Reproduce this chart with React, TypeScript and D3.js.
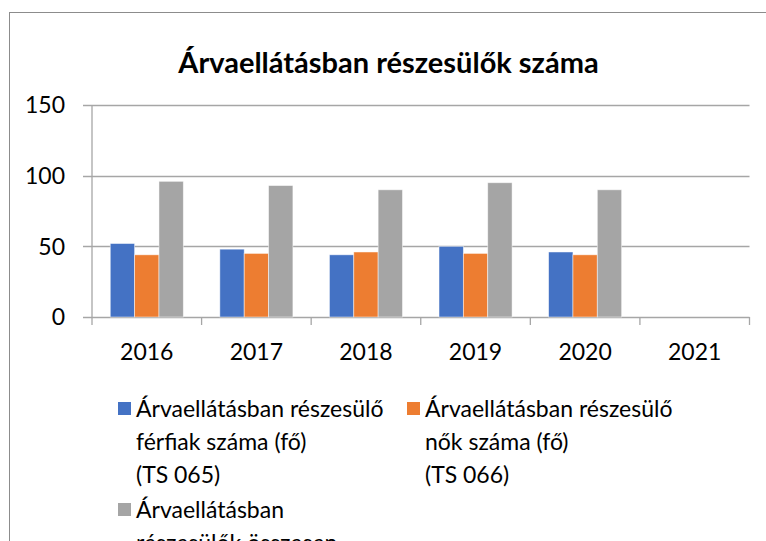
import React from "react";
import * as d3 from "d3";

const categories = ["2016", "2017", "2018", "2019", "2020", "2021"];
const seriesNames = [
  ["Árvaellátásban részesülő", "férfiak száma (fő)", "(TS 065)"],
  ["Árvaellátásban részesülő", "nők száma (fő)", "(TS 066)"],
  ["Árvaellátásban", "részesülők összesen"],
];
const maleValues: (number | null)[] = [52, 48, 44, 50, 46, null];
const femaleValues: (number | null)[] = [44, 45, 46, 45, 44, null];
const totalValues: (number | null)[] = [96, 93, 90, 95, 90, null];
const yTicks = [0, 50, 100, 150];
const colors = ["#4472C4", "#ED7D31", "#A5A5A5"];
const title = "Árvaellátásban részesülők száma";

const W = 766;
const H = 541;
const FONT = "Lato, 'Open Sans', sans-serif";

export default function App() {
  const plotLeft = 92;
  const plotRight = 749.5;
  const plotTop = 105;
  const plotBottom = 317;
  const x = d3.scaleBand<string>().domain(categories).range([plotLeft, plotRight]);
  const y = d3.scaleLinear().domain([0, 150]).range([plotBottom, plotTop]);
  const series = [maleValues, femaleValues, totalValues];
  const barW = x.bandwidth() / (3 + 1.5);
  const gap = (x.bandwidth() - 3 * barW) / 2;

  const legendItems = [
    { x: 118, y: 409 },
    { x: 407, y: 409 },
    { x: 118, y: 510 },
  ];
  const lineH = 33;

  return (
    <svg
      width={W}
      height={H}
      style={{ position: "absolute", left: 0, top: 0, background: "#fff" }}
      fontFamily={FONT}
    >
      <rect x={0} y={0} width={W} height={H} fill="#fff" />
      <rect x={9.5} y={12.5} width={W + 5} height={H + 10} fill="#fff" stroke="#8c8c8c" strokeWidth={1} />
      <text x={388.5} y={73} textAnchor="middle" fontSize={29} fontWeight="bold" fill="#000">
        {title}
      </text>
      {yTicks.map((t) => (
        <g key={t}>
          <line x1={83} x2={plotRight} y1={Math.round(y(t)) + 0.5} y2={Math.round(y(t)) + 0.5} stroke="#a6a6a6" strokeWidth={1.3} />
          <text x={65} y={y(t)} dy="0.36em" textAnchor="end" fontSize={23} fill="#000">
            {t}
          </text>
        </g>
      ))}
      <line x1={plotLeft} x2={plotLeft} y1={plotTop} y2={plotBottom + 8} stroke="#a6a6a6" strokeWidth={1.3} />
      {categories.map((c) => (
        <line key={c} x1={(x(c) as number) + x.bandwidth()} x2={(x(c) as number) + x.bandwidth()} y1={plotBottom} y2={plotBottom + 8} stroke="#a6a6a6" strokeWidth={1.3} />
      ))}
      {series.map((vals, si) =>
        vals.map((v, ci) =>
          v == null ? null : (
            <rect
              key={`${si}-${ci}`}
              x={(x(categories[ci]) as number) + gap + si * barW}
              y={y(v)}
              width={barW}
              height={y(0) - y(v)}
              fill={colors[si]}
              stroke="#ffffff"
              strokeOpacity={0.6}
              strokeWidth={0.8}
            />
          )
        )
      )}
      {categories.map((c) => (
        <text key={c} x={(x(c) as number) + x.bandwidth() / 2} y={352} dy="0.36em" textAnchor="middle" fontSize={23} fill="#000">
          {c}
        </text>
      ))}
      {legendItems.map((li, i) => (
        <g key={i}>
          <rect x={li.x} y={li.y - 7} width={13} height={13} fill={colors[i]} />
          {seriesNames[i].map((line, k) => (
            <text key={k} x={li.x + 18} y={li.y + k * lineH} dy="0.36em" fontSize={23} fill="#000">
              {line}
            </text>
          ))}
        </g>
      ))}
    </svg>
  );
}
